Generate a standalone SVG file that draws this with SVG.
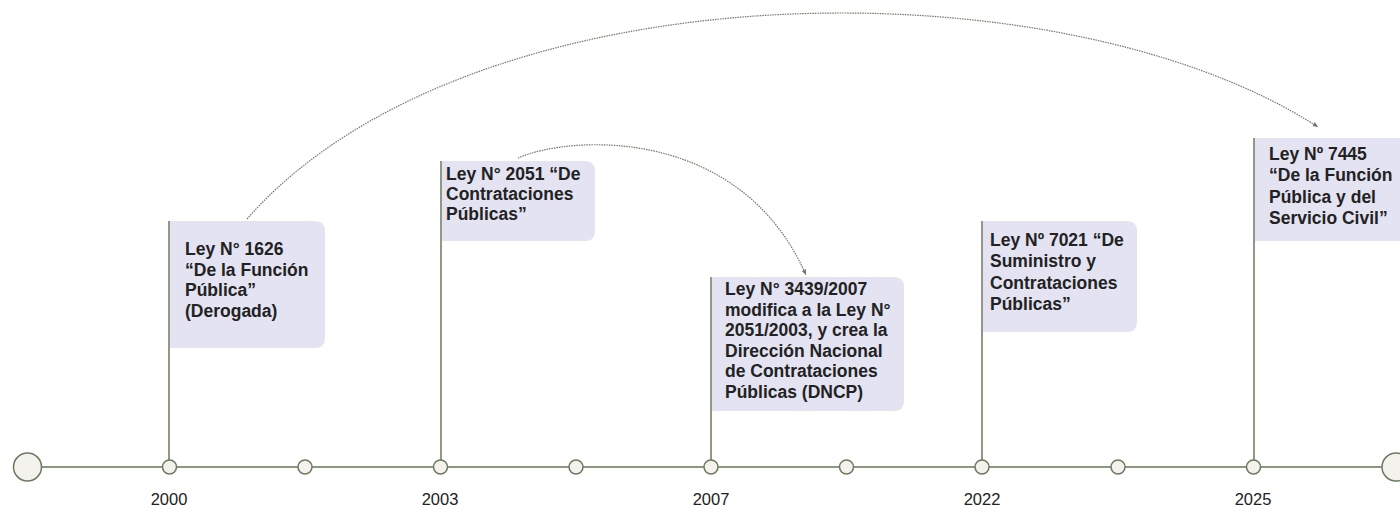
<svg xmlns="http://www.w3.org/2000/svg" width="1400" height="508" viewBox="0 0 1400 508">
<defs>
<style>
.box{fill:#e4e3f2;}
.stem{stroke:#8e9986;stroke-width:2;fill:none;}
.axis{stroke:#8b977f;stroke-width:2;fill:none;}
.dot{fill:#f4f2ec;stroke:#6b7a5e;stroke-width:1.5;}
.lbl{font-family:"Liberation Sans",Arial,sans-serif;font-weight:bold;font-size:17.5px;fill:#222;}
.yr{font-family:"Liberation Sans",Arial,sans-serif;font-size:16.5px;fill:#222;text-anchor:middle;}
.arc{stroke:#6f7a68;stroke-width:1.2;fill:none;stroke-dasharray:1.5 1;}
</style>
<marker id="ah" viewBox="0 0 10 10" refX="9" refY="5" markerWidth="6" markerHeight="6" orient="auto" markerUnits="userSpaceOnUse">
<path d="M0,1 L9,5 L0,9 Z" fill="#6f7a68"/>
</marker>
</defs>
<rect width="1400" height="508" fill="#ffffff"/>

<g id="axis">
<line class="axis" x1="27" y1="467" x2="1396" y2="467"/>
</g>

<g id="connectors">
<path class="arc" d="M247,219 C470,-35 1060,-40 1318,127" marker-end="url(#ah)"/>
<path class="arc" d="M518,158 C570,135 740,125 806,275" marker-end="url(#ah)"/>
</g>

<g id="n2000">
<line class="stem" x1="169" y1="221" x2="169" y2="460"/>
<path class="box" d="M170,221 H315 Q325,221 325,231 V338 Q325,348 315,348 H170 Z"/>
<text class="lbl" x="185" y="255">Ley N° 1626</text>
<text class="lbl" x="185" y="275.5">“De la Función</text>
<text class="lbl" x="185" y="296">Pública”</text>
<text class="lbl" x="185" y="316.5">(Derogada)</text>
</g>

<g id="n2003">
<line class="stem" x1="441" y1="161" x2="441" y2="460"/>
<path class="box" d="M442,161 H585 Q595,161 595,171 V231 Q595,241 585,241 H442 Z"/>
<text class="lbl" x="446" y="180">Ley N° 2051 “De</text>
<text class="lbl" x="446" y="200">Contrataciones</text>
<text class="lbl" x="446" y="220">Públicas”</text>
</g>

<g id="n2007">
<line class="stem" x1="711" y1="277" x2="711" y2="460"/>
<path class="box" d="M712,277 H894 Q904,277 904,287 V401 Q904,411 894,411 H712 Z"/>
<text class="lbl" x="725" y="295">Ley N° 3439/2007</text>
<text class="lbl" x="725" y="315.5">modifica a la Ley N°</text>
<text class="lbl" x="725" y="336">2051/2003, y crea la</text>
<text class="lbl" x="725" y="356.5">Dirección Nacional</text>
<text class="lbl" x="725" y="377">de Contrataciones</text>
<text class="lbl" x="725" y="397.5">Públicas (DNCP)</text>
</g>

<g id="n2022">
<line class="stem" x1="982" y1="221" x2="982" y2="460"/>
<path class="box" d="M983,221 H1127 Q1137,221 1137,231 V322 Q1137,332 1127,332 H983 Z"/>
<text class="lbl" x="990" y="246">Ley Nº 7021 “De</text>
<text class="lbl" x="990" y="267.3">Suministro y</text>
<text class="lbl" x="990" y="288.6">Contrataciones</text>
<text class="lbl" x="990" y="310">Públicas”</text>
</g>

<g id="n2025">
<line class="stem" x1="1254" y1="138" x2="1254" y2="460"/>
<path class="box" d="M1255,138 H1400 V241 H1255 Z"/>
<text class="lbl" x="1269" y="160">Ley Nº 7445</text>
<text class="lbl" x="1269" y="181.3">“De la Función</text>
<text class="lbl" x="1269" y="202.6">Pública y del</text>
<text class="lbl" x="1269" y="224">Servicio Civil”</text>
</g>

<g id="dots">
<circle class="dot" cx="27.5" cy="467" r="14"/>
<circle class="dot" cx="1396" cy="467" r="14"/>
<circle class="dot" cx="169.5" cy="467" r="7"/>
<circle class="dot" cx="305" cy="467" r="7"/>
<circle class="dot" cx="440.5" cy="467" r="7"/>
<circle class="dot" cx="576" cy="467" r="7"/>
<circle class="dot" cx="711" cy="467" r="7"/>
<circle class="dot" cx="846.5" cy="467" r="7"/>
<circle class="dot" cx="982" cy="467" r="7"/>
<circle class="dot" cx="1118" cy="467" r="7"/>
<circle class="dot" cx="1253.5" cy="467" r="7"/>
</g>

<g id="years">
<text class="yr" x="169" y="505">2000</text>
<text class="yr" x="440" y="505">2003</text>
<text class="yr" x="711" y="505">2007</text>
<text class="yr" x="982" y="505">2022</text>
<text class="yr" x="1253" y="505">2025</text>
</g>
</svg>
